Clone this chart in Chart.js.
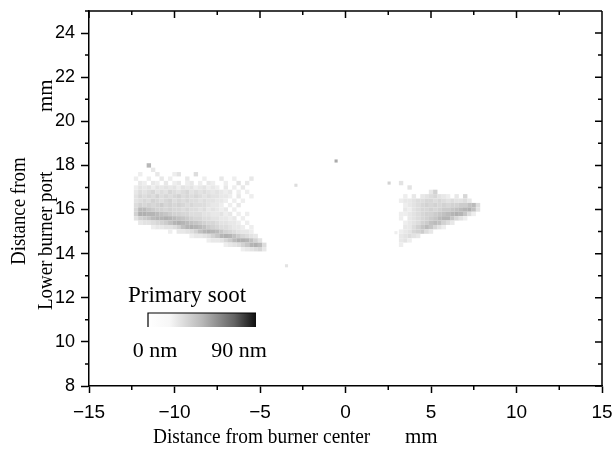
<!DOCTYPE html>
<html>
<head>
<meta charset="utf-8">
<script src="https://cdn.jsdelivr.net/npm/chart.js@4/dist/chart.umd.min.js"></script>
<style>
  html, body { margin: 0; padding: 0; background: #ffffff; }
  canvas { display: block; }
</style>
</head>
<body>
<canvas id="c" width="613" height="451"></canvas>
<script>
// ---------------- DATA ----------------
// x / y tick values shown on the axes
const xTickLabels = [-15, -10, -5, 0, 5, 10, 15];
const yTickLabels = [8, 10, 12, 14, 16, 18, 20, 22, 24];

// Left soot zone: cell centres (mm) and primary-soot size (nm) per cell
const leftCols = [-12.25, -12.0, -11.75, -11.5, -11.25, -11.0, -10.75, -10.5, -10.25, -10.0,
                  -9.75, -9.5, -9.25, -9.0, -8.75, -8.5, -8.25, -8.0, -7.75, -7.5,
                  -7.25, -7.0, -6.75, -6.5, -6.25, -6.0, -5.75, -5.5, -5.25, -5.0, -4.75];
const leftRows = [18.0, 17.8, 17.6, 17.4, 17.2, 17.0, 16.8, 16.6, 16.4, 16.2,
                  16.0, 15.8, 15.6, 15.4, 15.2, 15.0, 14.8, 14.6, 14.4, 14.2];
const leftSize = [
  [0,0,0,25,0,0,0,0,0,0,0,0,0,0,0,0,0,0,0,0,0,0,0,0,0,0,0,0,0,0,0],
  [0,0,0,0,8,0,0,0,0,0,0,0,0,0,0,0,0,0,0,0,0,0,0,0,0,0,0,0,0,0,0],
  [0,6,0,0,0,8,0,0,0,6,10,0,0,0,12,0,0,0,0,0,0,0,0,0,0,0,0,0,0,0,0],
  [6,0,0,6,0,0,8,0,6,0,0,0,8,0,0,0,6,0,0,0,8,0,0,6,0,0,0,8,0,0,0],
  [0,8,6,0,8,6,0,8,0,6,8,0,6,8,0,6,0,8,6,0,0,6,0,0,10,0,8,0,0,0,0],
  [6,10,8,10,6,10,8,10,8,10,6,10,8,10,6,8,10,6,8,6,0,8,0,6,0,8,0,0,0,0,0],
  [8,12,10,12,14,10,12,10,14,12,10,12,14,10,12,10,12,10,8,10,8,6,8,0,6,0,6,0,0,0,0],
  [10,14,12,14,12,16,12,14,12,14,16,12,14,12,14,12,10,12,10,10,8,8,6,0,8,0,0,6,0,0,0],
  [10,12,14,12,16,14,12,14,16,12,14,12,14,12,12,10,12,10,10,8,8,6,0,6,0,6,0,0,0,0,0],
  [12,16,14,16,14,16,18,14,16,14,16,14,12,14,12,12,12,10,8,8,6,0,6,0,8,0,0,0,0,0,0],
  [14,24,24,20,18,16,16,14,16,14,14,12,14,12,12,10,12,8,10,8,6,8,0,6,0,0,0,0,0,0,0],
  [16,28,28,26,26,24,22,20,18,16,16,14,14,12,12,12,10,10,8,8,10,6,8,0,6,0,6,0,0,0,0],
  [10,16,18,20,24,26,26,28,26,24,22,20,18,16,14,14,12,12,10,10,8,8,6,8,0,6,0,0,0,0,0],
  [0,8,10,10,12,14,16,18,22,26,28,26,24,22,20,18,16,14,14,12,10,10,8,8,6,0,6,0,0,0,0],
  [0,0,0,0,6,8,8,10,10,12,16,22,26,28,26,24,22,18,16,14,12,12,10,8,8,6,0,6,0,0,0],
  [0,0,0,0,0,0,0,0,6,0,8,8,10,12,16,22,26,28,26,24,20,16,14,12,10,8,8,6,0,0,0],
  [0,0,0,0,0,0,0,0,0,0,0,0,0,6,8,8,10,12,16,20,26,28,26,22,18,14,12,10,8,0,0],
  [0,0,0,0,0,0,0,0,0,0,0,0,0,0,0,0,0,6,8,8,10,14,18,24,28,28,26,22,16,10,0],
  [0,0,0,0,0,0,0,0,0,0,0,0,0,0,0,0,0,0,0,0,0,6,8,10,12,16,20,26,28,24,12],
  [0,0,0,0,0,0,0,0,0,0,0,0,0,0,0,0,0,0,0,0,0,0,0,0,0,6,8,10,12,14,8]
];

// Right soot zone
const rightCols = [3.25, 3.5, 3.75, 4.0, 4.25, 4.5, 4.75, 5.0, 5.25, 5.5,
                   5.75, 6.0, 6.25, 6.5, 6.75, 7.0, 7.25, 7.5, 7.75];
const rightRows = [17.2, 17.0, 16.8, 16.6, 16.4, 16.2, 16.0, 15.8, 15.6, 15.4,
                   15.2, 15.0, 14.8, 14.6, 14.4];
const rightSize = [
  [10,0,0,0,0,0,0,0,0,0,0,0,0,0,0,0,0,0,0],
  [0,0,10,0,0,0,0,0,0,0,0,0,0,0,0,0,0,0,0],
  [0,0,0,0,0,0,0,8,16,0,0,0,0,0,0,0,0,0,0],
  [0,6,0,8,0,8,10,12,14,10,8,6,0,8,0,14,0,0,0],
  [6,8,8,10,12,12,14,14,12,14,12,10,12,10,10,12,8,0,0],
  [0,6,8,10,12,14,16,14,16,14,16,14,16,16,18,18,22,24,12],
  [0,8,6,10,12,14,14,16,14,16,18,18,20,22,24,26,28,22,10],
  [6,6,8,10,12,14,16,16,18,20,22,24,26,28,26,20,12,6,0],
  [6,0,8,10,12,14,16,18,20,24,26,26,20,14,10,6,0,0,0],
  [0,6,8,10,12,16,18,22,24,22,16,12,8,0,0,0,0,0,0],
  [0,8,8,12,16,20,24,20,14,10,6,0,0,0,0,0,0,0,0],
  [6,8,10,14,16,18,12,8,0,0,0,0,0,0,0,0,0,0,0],
  [8,10,12,10,8,0,0,0,0,0,0,0,0,0,0,0,0,0,0],
  [8,10,6,0,0,0,0,0,0,0,0,0,0,0,0,0,0,0,0],
  [6,0,0,0,0,0,0,0,0,0,0,0,0,0,0,0,0,0,0]
];

// Isolated particles
const isoX = [-0.55, -2.9, 2.55, -3.45, 2.95];
const isoY = [18.2, 17.1, 17.2, 13.45, 14.95];
const isoSize = [30, 12, 16, 10, 6];

const sizeMax = 90; // colour bar: 0 nm (white) .. 90 nm (black)

// ---------------- build data ----------------
function gridPoints(cols, rows, sizes) {
  const pts = [];
  rows.forEach((y, j) => {
    cols.forEach((x, i) => {
      const v = sizes[j][i];
      if (v > 0) pts.push({ x: x, y: y, v: v });
    });
  });
  return pts;
}
const cellPoints = gridPoints(leftCols, leftRows, leftSize)
  .concat(gridPoints(rightCols, rightRows, rightSize));
const isoPoints = isoX.map((x, k) => ({ x: x, y: isoY[k], v: isoSize[k] }));

function grayFor(v) {
  const g = Math.round(255 * (1 - Math.min(v, sizeMax) / sizeMax));
  return 'rgb(' + g + ',' + g + ',' + g + ')';
}
const colorFn = (ctx) => (ctx.raw ? grayFor(ctx.raw.v) : '#ccc');

const fmtX = (v) => (v < 0 ? '\u2212' + Math.abs(v) : String(v));

const SERIF = '"Liberation Serif", "Times New Roman", serif';
const SANS = '"Liberation Sans", Arial, sans-serif';

// ---------------- plugins ----------------
const bgPlugin = {
  id: 'bg',
  beforeDraw(chart) {
    const c = chart.ctx;
    c.save();
    c.fillStyle = '#ffffff';
    c.fillRect(0, 0, chart.width, chart.height);
    c.restore();
  }
};

function drawText(c, text, x, y, angle, sx) {
  c.save();
  c.translate(x, y);
  c.rotate(angle);
  c.scale(sx, 1);
  c.fillText(text, 0, 0);
  c.restore();
}

const framePlugin = {
  id: 'frame',
  afterDraw(chart) {
    const c = chart.ctx;
    const { left, right, top, bottom } = chart.chartArea;
    const xs = chart.scales.x, ys = chart.scales.y;
    c.save();
    c.strokeStyle = '#000';
    c.lineWidth = 1.5;
    c.beginPath();
    c.moveTo(left, top); c.lineTo(right, top);
    c.moveTo(right, top); c.lineTo(right, bottom);
    xs.ticks.forEach(t => {
      const px = xs.getPixelForValue(t.value);
      const major = xTickLabels.includes(t.value);
      c.moveTo(px, top); c.lineTo(px, top + (major ? 7 : 4));
      if (!major) { c.moveTo(px, bottom); c.lineTo(px, bottom + 4); }
    });
    ys.ticks.forEach(t => {
      const py = ys.getPixelForValue(t.value);
      const major = yTickLabels.includes(t.value);
      c.moveTo(right, py); c.lineTo(right - (major ? 7 : 4), py);
      if (!major) { c.moveTo(left, py); c.lineTo(left - 4, py); }
    });
    c.stroke();

    // axis titles
    c.fillStyle = '#000';
    c.font = '21px ' + SERIF;
    c.textBaseline = 'alphabetic';
    c.textAlign = 'left';
    drawText(c, 'Distance from burner center', 153, 443, 0, 0.92);
    drawText(c, 'mm', 405, 443, 0, 1);

    drawText(c, 'Distance from', 25, 265, -Math.PI / 2, 0.9);
    drawText(c, 'Lower burner port', 52, 310, -Math.PI / 2, 0.9);
    drawText(c, 'mm', 52, 112, -Math.PI / 2, 1);

    // colour-bar legend
    c.font = '23px ' + SERIF;
    c.textAlign = 'left';
    c.fillText('Primary soot', 128, 302);
    const bx = 148, by = 313, bw = 108, bh = 14;
    const grad = c.createLinearGradient(bx, 0, bx + bw, 0);
    grad.addColorStop(0, grayFor(0));
    grad.addColorStop(0.2, grayFor(3));
    grad.addColorStop(0.5, grayFor(25));
    grad.addColorStop(0.8, grayFor(55));
    grad.addColorStop(1, grayFor(85));
    c.fillStyle = grad;
    c.fillRect(bx, by, bw, bh);
    c.strokeStyle = '#000';
    c.lineWidth = 1.2;
    c.beginPath();
    c.moveTo(bx, by + bh); c.lineTo(bx, by); c.lineTo(bx + bw, by);
    c.stroke();
    c.fillStyle = '#000';
    c.font = '22px ' + SERIF;
    c.textAlign = 'center';
    c.fillText('0 nm', 155, 357);
    c.fillText('90 nm', 239, 357);
    c.restore();
  }
};

// ---------------- chart ----------------
new Chart(document.getElementById('c'), {
  type: 'scatter',
  data: {
    datasets: [
      {
        label: 'cells',
        data: cellPoints,
        pointStyle: 'rect',
        pointRadius: 3.1,
        pointBorderWidth: 0,
        pointBackgroundColor: colorFn,
        pointBorderColor: 'rgba(0,0,0,0)'
      },
      {
        label: 'isolated',
        data: isoPoints,
        pointStyle: 'rect',
        pointRadius: 2.2,
        pointBorderWidth: 0,
        pointBackgroundColor: colorFn,
        pointBorderColor: 'rgba(0,0,0,0)'
      }
    ]
  },
  options: {
    responsive: false,
    animation: false,
    devicePixelRatio: 1,
    events: [],
    layout: { padding: { left: 0, right: 11, top: 11, bottom: 0 } },
    plugins: { legend: { display: false }, tooltip: { enabled: false }, title: { display: false } },
    scales: {
      x: {
        type: 'linear',
        min: -15, max: 15,
        afterFit(s) { s.height = 65; s.paddingLeft = 0; s.paddingRight = 0; },
        ticks: {
          stepSize: 2.5,
          autoSkip: false,
          maxRotation: 0,
          padding: 8,
          color: '#000',
          font: { family: SANS, size: 19 },
          callback: (v) => (xTickLabels.includes(v) ? fmtX(v) : '')
        },
        grid: {
          drawOnChartArea: false,
          drawTicks: true,
          tickLength: 7,
          tickWidth: 1.5,
          tickColor: (ctx) => (ctx.tick && xTickLabels.includes(ctx.tick.value) ? '#000' : 'rgba(0,0,0,0)')
        },
        border: { display: true, color: '#000', width: 1.5 }
      },
      y: {
        type: 'linear',
        min: 8, max: 25,
        afterFit(s) { s.width = 89; s.paddingTop = 0; s.paddingBottom = 0; },
        ticks: {
          stepSize: 1,
          autoSkip: false,
          padding: 6,
          color: '#000',
          font: { family: SANS, size: 18 },
          callback: (v) => (yTickLabels.includes(v) ? String(v) : '')
        },
        grid: {
          drawOnChartArea: false,
          drawTicks: true,
          tickLength: 8,
          tickWidth: 1.5,
          tickColor: (ctx) => (ctx.tick && yTickLabels.includes(ctx.tick.value) ? '#000' : 'rgba(0,0,0,0)')
        },
        border: { display: true, color: '#000', width: 1.5 }
      }
    }
  },
  plugins: [bgPlugin, framePlugin]
});
</script>
</body>
</html>
